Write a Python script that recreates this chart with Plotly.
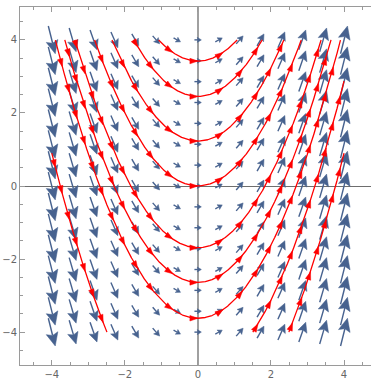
import numpy as np
import plotly.graph_objects as go

# ---- data -------------------------------------------------------------
# Vector field F(x, y) = (1, x), sampled on a regular grid
grid_min, grid_max, grid_n = -4.0, 4.0, 15
# Stream lines: integral curves y = x^2/2 + c (constants)
stream_c = [3.42, 2.45, 1.23, 0.0, -1.69, -2.64, -3.62, -5.13, -7.1]
stream_branch = ["both", "both", "both", "both", "both", "both", "both", "right", "both"]
tick_vals = [-4, -2, 0, 2, 4]

# ---- style ------------------------------------------------------------
W, H = 371, 379
ML, MT, MB, MR = 20, 7, 14, 0
X0 = -4.87
YR = 4.9
px_per_unit = (H - MT - MB) / (2 * YR)
X1 = X0 + (W - ML - MR) / px_per_unit
ARROW_COL = "#47628f"
STREAM_COL = "#ff0000"


def field(x, y):
    return 1.0, x


def head_poly(xt, yt, ux, uy, hl, hw, notch=0.25):
    bx, by = xt - ux * hl, yt - uy * hl
    nx, ny = -uy, ux
    nxp, nyp = xt - ux * hl * (1 - notch), yt - uy * hl * (1 - notch)
    return ([xt, bx + nx * hw / 2, nxp, bx - nx * hw / 2, xt, None],
            [yt, by + ny * hw / 2, nyp, by - ny * hw / 2, yt, None],
            (nxp, nyp))


# ---- vector arrows ----------------------------------------------------
gx = np.linspace(grid_min, grid_max, grid_n)
gy = np.linspace(grid_min, grid_max, grid_n)
sh_x, sh_y, hd_x, hd_y = [], [], [], []
scale = 0.19
for x0 in gx:
    for y0 in gy:
        vx, vy = field(x0, y0)
        m = np.hypot(vx, vy)
        ux, uy = vx / m, vy / m
        L = scale * m
        Lpx = L * px_per_unit
        hl = (1.2 + 0.42 * Lpx) / px_per_unit
        hw = (2.8 + 0.32 * Lpx) / px_per_unit
        tx, ty = x0 - ux * L / 2, y0 - uy * L / 2
        px_, py_ = x0 + ux * L / 2, y0 + uy * L / 2
        hx, hy, (nxp, nyp) = head_poly(px_, py_, ux, uy, hl, hw, notch=0.18)
        hd_x += hx
        hd_y += hy
        sh_x += [tx, nxp, None]
        sh_y += [ty, nyp, None]

# ---- stream lines -----------------------------------------------------
st_x, st_y, ah_x, ah_y = [], [], [], []
xx = np.linspace(-4, 4, 4001)
spacing = 0.74
ahl = 8.0 / px_per_unit
ahw = 5.5 / px_per_unit
for c, br in zip(stream_c, stream_branch):
    yy = xx ** 2 / 2 + c
    ok = np.abs(yy) <= 4.0
    if br == "right":
        ok &= xx > 0
    # signed arc length from x = 0
    ds = np.sqrt(1 + xx ** 2) * (xx[1] - xx[0])
    s = np.cumsum(ds)
    s = s - np.interp(0.0, xx, s)
    idx = np.where(ok)[0]
    segs = np.split(idx, np.where(np.diff(idx) > 1)[0] + 1)
    for seg in segs:
        if len(seg) < 2:
            continue
        st_x += list(xx[seg]) + [None]
        st_y += list(yy[seg]) + [None]
        s_seg = s[seg]
        k0 = int(np.ceil((s_seg[0] + 0.15) / spacing))
        k1 = int(np.floor((s_seg[-1] - 0.05) / spacing))
        for k in range(k0, k1 + 1):
            sk = k * spacing
            xa = np.interp(sk, s_seg, xx[seg])
            ya = xa ** 2 / 2 + c
            vx, vy = field(xa, ya)
            m = np.hypot(vx, vy)
            hx, hy, _ = head_poly(xa, ya, vx / m, vy / m, ahl, ahw, notch=0.0)
            ah_x += hx
            ah_y += hy

fig = go.Figure()
fig.add_trace(go.Scatter(x=sh_x, y=sh_y, mode="lines",
                         line=dict(color=ARROW_COL, width=1.4),
                         hoverinfo="skip", showlegend=False))
fig.add_trace(go.Scatter(x=hd_x, y=hd_y, mode="lines", fill="toself",
                         fillcolor=ARROW_COL, line=dict(color=ARROW_COL, width=0.5),
                         hoverinfo="skip", showlegend=False))
fig.add_trace(go.Scatter(x=st_x, y=st_y, mode="lines",
                         line=dict(color=STREAM_COL, width=1.3),
                         hoverinfo="skip", showlegend=False))
fig.add_trace(go.Scatter(x=ah_x, y=ah_y, mode="lines", fill="toself",
                         fillcolor=STREAM_COL, line=dict(color=STREAM_COL, width=0.5),
                         hoverinfo="skip", showlegend=False))

axis_common = dict(
    showgrid=False, zeroline=True,
    showline=True, linecolor="#9a9a9a", linewidth=1,
    ticks="inside", ticklen=5, tickcolor="#9a9a9a", tickwidth=1,
    tickvals=tick_vals, ticktext=[("\u2212" if v < 0 else "") + str(abs(v)) for v in tick_vals],
    tickfont=dict(family="DejaVu Sans", size=10, color="#666666"),
    minor=dict(ticks="inside", ticklen=3, dtick=0.5, tick0=0, tickcolor="#9a9a9a", showgrid=False),
)
fig.update_xaxes(range=[X0, X1], mirror="ticks", zerolinecolor="#a0a0a0", zerolinewidth=1.6,
                 **axis_common)
fig.update_yaxes(range=[-YR, YR], mirror=False, zerolinecolor="#6e6e6e", zerolinewidth=1,
                 **axis_common)
fig.update_layout(width=W, height=H, margin=dict(l=ML, r=MR, t=MT, b=MB),
                  plot_bgcolor="white", paper_bgcolor="white")
fig.write_html("out.html")
